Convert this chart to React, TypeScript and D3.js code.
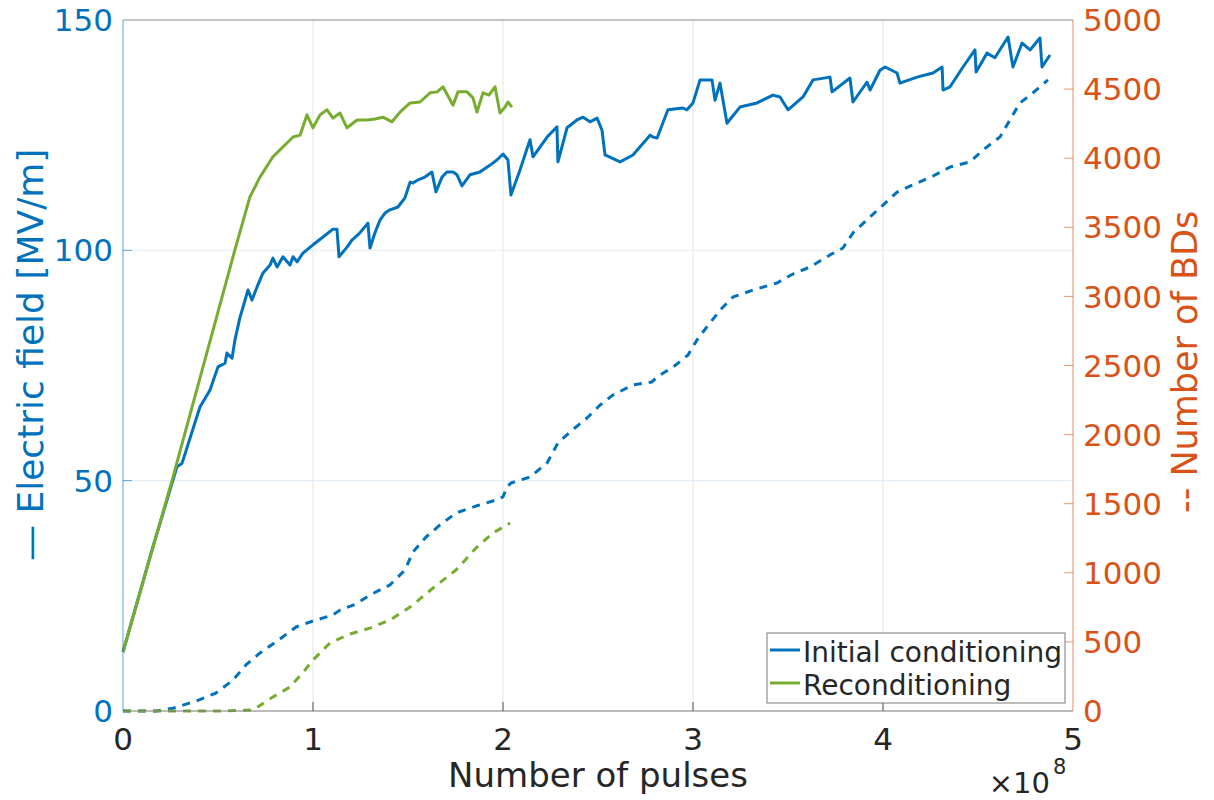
import React from "react";
import * as d3 from "d3";

// Pulse counts are in units of 1e8 pulses.
const initialFieldX = [0, 0.153, 0.284, 0.311, 0.405, 0.458, 0.5, 0.537, 0.547, 0.574, 0.589, 0.616, 0.632, 0.658, 0.679, 0.705, 0.737, 0.774, 0.789, 0.811, 0.842, 0.879, 0.895, 0.916, 0.947, 1.0, 1.053, 1.105, 1.126, 1.137, 1.179, 1.205, 1.247, 1.289, 1.3, 1.326, 1.353, 1.379, 1.405, 1.447, 1.484, 1.511, 1.526, 1.553, 1.589, 1.626, 1.647, 1.679, 1.705, 1.737, 1.758, 1.784, 1.826, 1.879, 1.932, 1.968, 2.0, 2.026, 2.042, 2.089, 2.142, 2.158, 2.232, 2.284, 2.289, 2.337, 2.389, 2.421, 2.458, 2.495, 2.521, 2.537, 2.616, 2.684, 2.774, 2.789, 2.811, 2.868, 2.947, 2.968, 3.0, 3.037, 3.1, 3.116, 3.142, 3.179, 3.247, 3.337, 3.421, 3.458, 3.5, 3.579, 3.632, 3.721, 3.732, 3.826, 3.842, 3.916, 3.932, 3.984, 4.011, 4.074, 4.089, 4.179, 4.263, 4.311, 4.316, 4.353, 4.421, 4.484, 4.49, 4.547, 4.589, 4.658, 4.684, 4.732, 4.774, 4.826, 4.837, 4.879];
const initialField = [12.8, 35.0, 53.0, 53.8, 66.0, 69.7, 74.7, 75.5, 77.7, 76.6, 80.5, 85.5, 87.7, 91.4, 89.2, 92.0, 95.1, 96.8, 98.3, 96.4, 98.6, 96.8, 98.6, 97.5, 99.4, 101.2, 102.9, 104.6, 104.6, 98.6, 100.7, 102.2, 103.8, 105.9, 100.5, 103.8, 106.6, 108.1, 108.8, 109.4, 111.4, 114.8, 114.6, 115.3, 115.9, 117.0, 112.7, 115.9, 117.0, 117.0, 116.4, 114.0, 116.4, 117.0, 118.5, 119.6, 120.9, 119.6, 112.0, 117.4, 124.0, 120.3, 124.6, 126.8, 119.2, 126.6, 128.3, 128.9, 127.9, 128.7, 126.1, 120.7, 119.2, 120.7, 125.0, 124.6, 124.4, 130.5, 130.9, 130.5, 132.0, 137.0, 137.0, 132.6, 136.3, 127.6, 131.1, 132.0, 133.7, 133.3, 130.5, 133.3, 137.0, 137.6, 134.4, 137.4, 132.2, 136.5, 134.8, 139.1, 139.8, 138.5, 136.3, 137.6, 138.5, 139.8, 134.8, 135.5, 139.8, 143.5, 138.7, 142.8, 141.8, 146.3, 139.8, 145.0, 143.5, 146.1, 139.8, 142.4];

const reconFieldX = [0, 0.258, 0.589, 0.668, 0.721, 0.789, 0.863, 0.895, 0.932, 0.968, 1.0, 1.037, 1.074, 1.105, 1.142, 1.179, 1.232, 1.284, 1.326, 1.368, 1.416, 1.458, 1.511, 1.563, 1.616, 1.653, 1.684, 1.737, 1.763, 1.811, 1.842, 1.863, 1.895, 1.926, 1.958, 1.984, 2.011, 2.026, 2.047];
const reconField = [12.8, 50.0, 100.1, 111.6, 115.9, 120.3, 123.3, 124.6, 125.0, 129.4, 126.6, 129.4, 130.5, 128.7, 129.8, 126.6, 128.3, 128.3, 128.5, 128.9, 127.9, 130.0, 132.0, 132.2, 134.2, 134.4, 135.5, 131.5, 134.4, 134.4, 133.1, 130.0, 134.2, 133.7, 135.5, 129.8, 131.1, 132.2, 131.1];

const initialBDsX = [0, 0.174, 0.263, 0.384, 0.489, 0.579, 0.647, 0.721, 0.805, 0.911, 1.0, 1.105, 1.142, 1.226, 1.3, 1.405, 1.484, 1.526, 1.595, 1.668, 1.753, 1.858, 1.963, 2.0, 2.021, 2.042, 2.142, 2.232, 2.289, 2.353, 2.442, 2.511, 2.579, 2.684, 2.784, 2.811, 2.895, 2.974, 3.021, 3.089, 3.153, 3.211, 3.316, 3.442, 3.526, 3.616, 3.721, 3.789, 3.842, 3.932, 4.0, 4.074, 4.179, 4.263, 4.353, 4.458, 4.526, 4.616, 4.668, 4.721, 4.789, 4.868];
const initialBDs = [0, 0, 20, 72, 130, 224, 333, 420, 500, 608, 651, 695, 730, 774, 840, 912, 1020, 1150, 1259, 1346, 1433, 1483, 1527, 1549, 1621, 1650, 1693, 1795, 1939, 2019, 2120, 2214, 2287, 2359, 2381, 2417, 2489, 2576, 2685, 2808, 2916, 2996, 3046, 3097, 3162, 3213, 3300, 3350, 3459, 3575, 3661, 3755, 3820, 3871, 3936, 3973, 4059, 4154, 4277, 4400, 4472, 4566];

const reconBDsX = [0, 0.53, 0.684, 0.789, 0.879, 0.958, 1.0, 1.089, 1.195, 1.3, 1.405, 1.511, 1.632, 1.753, 1.858, 1.947, 2.037];
const reconBDs = [0, 0, 7, 101, 174, 297, 369, 492, 557, 600, 658, 752, 890, 1020, 1180, 1288, 1360];

const xTicks = [0, 1, 2, 3, 4, 5];
const fieldTicks = [0, 50, 100, 150];
const bdTicks = [0, 500, 1000, 1500, 2000, 2500, 3000, 3500, 4000, 4500, 5000];
const legendLabels = ["Initial conditioning", "Reconditioning"];

const BLUE = "#0072BD";
const GREEN = "#77AC30";
const ORANGE = "#D95319";
const INK = "#262626";
const FONT = "DejaVu Sans, sans-serif";

const left = 123;
const right = 1073;
const top = 20;
const bottom = 711;

export default function App() {
  const x = d3.scaleLinear().domain([0, 5]).range([left, right]);
  const yField = d3.scaleLinear().domain([0, 150]).range([bottom, top]);
  const yBD = d3.scaleLinear().domain([0, 5000]).range([bottom, top]);

  const pts = (xs: number[], ys: number[]) => xs.map((v, i) => [v, ys[i]] as [number, number]);
  const fieldLine = d3.line<[number, number]>().x((d) => x(d[0])).y((d) => yField(d[1]));
  const bdLine = d3.line<[number, number]>().x((d) => x(d[0])).y((d) => yBD(d[1]));

  const series = [
    { d: bdLine(pts(initialBDsX, initialBDs)), color: BLUE, dash: "8 7" },
    { d: bdLine(pts(reconBDsX, reconBDs)), color: GREEN, dash: "8 7" },
    { d: fieldLine(pts(initialFieldX, initialField)), color: BLUE, dash: undefined },
    { d: fieldLine(pts(reconFieldX, reconField)), color: GREEN, dash: undefined },
  ];

  return (
    <svg
      width={1214}
      height={800}
      style={{ position: "absolute", left: 0, top: 0, background: "#fff" }}
      fontFamily={FONT}
    >
      {/* grid */}
      {xTicks.slice(1, -1).map((t) => (
        <line key={"gx" + t} x1={x(t)} x2={x(t)} y1={top} y2={bottom} stroke="#e4e4e4" strokeWidth={1} />
      ))}
      {fieldTicks.slice(1, -1).map((t) => (
        <line key={"gy" + t} x1={left} x2={right} y1={yField(t)} y2={yField(t)} stroke="#e2edf7" strokeWidth={1} />
      ))}

      {/* data */}
      {series.map((s, i) => (
        <path
          key={i}
          d={s.d ?? ""}
          fill="none"
          stroke={s.color}
          strokeWidth={3}
          strokeDasharray={s.dash}
          strokeLinejoin="round"
        />
      ))}

      {/* box */}
      <line x1={left} x2={right} y1={top} y2={top} stroke="#8a8a8a" strokeWidth={1} />
      <line x1={left} x2={right} y1={bottom} y2={bottom} stroke="#7a7a7a" strokeWidth={1.2} />
      <line x1={left} x2={left} y1={top} y2={bottom} stroke={BLUE} strokeOpacity={0.55} strokeWidth={1.2} />
      <line x1={right} x2={right} y1={top} y2={bottom} stroke={ORANGE} strokeOpacity={0.55} strokeWidth={1.2} />

      {/* x axis */}
      {xTicks.map((t) => (
        <g key={"xt" + t}>
          {t > 0 && t < 5 && <line x1={x(t)} x2={x(t)} y1={bottom} y2={bottom - 9} stroke="#555" strokeWidth={1} />}
          <text x={x(t)} y={750} textAnchor="middle" fontSize={31} fill={INK}>
            {t}
          </text>
        </g>
      ))}
      <text x={(left + right) / 2} y={787} textAnchor="middle" fontSize={34} fill={INK}>
        Number of pulses
      </text>
      <text x={1050} y={793} textAnchor="end" fontSize={29} fill={INK}>
        ×10
      </text>
      <text x={1053} y={774} fontSize={21} fill={INK}>
        8
      </text>

      {/* left axis */}
      {fieldTicks.map((t) => (
        <g key={"yl" + t}>
          {t > 0 && t < 150 && <line x1={left} x2={left + 9} y1={yField(t)} y2={yField(t)} stroke={BLUE} strokeOpacity={0.6} />}
          <text x={113} y={yField(t)} dy="0.36em" textAnchor="end" fontSize={31} fill={BLUE}>
            {t}
          </text>
        </g>
      ))}
      <text transform="translate(43,561) rotate(-90)" textAnchor="start" fontSize={36} fill={BLUE}>
        — Electric field [MV/m]
      </text>

      {/* right axis */}
      {bdTicks.map((t) => (
        <g key={"yr" + t}>
          {t > 0 && t < 5000 && <line x1={right} x2={right - 9} y1={yBD(t)} y2={yBD(t)} stroke={ORANGE} strokeOpacity={0.6} />}
          <text x={1083} y={yBD(t)} dy="0.36em" textAnchor="start" fontSize={31} fill={ORANGE}>
            {t}
          </text>
        </g>
      ))}
      <text transform="translate(1197,513) rotate(-90)" textAnchor="start" fontSize={35} fill={ORANGE}>
        -- Number of BDs
      </text>

      {/* legend */}
      <g>
        <rect x={767} y={633} width={298} height={70} fill="#fff" stroke="#7a7a7a" strokeWidth={1} />
        {legendLabels.map((lab, i) => (
          <g key={lab}>
            <line x1={770} x2={800} y1={650 + i * 33} y2={650 + i * 33} stroke={i === 0 ? BLUE : GREEN} strokeWidth={3} />
            <text x={803} y={662 + i * 33} fontSize={28} fill={INK}>
              {lab}
            </text>
          </g>
        ))}
      </g>
    </svg>
  );
}
